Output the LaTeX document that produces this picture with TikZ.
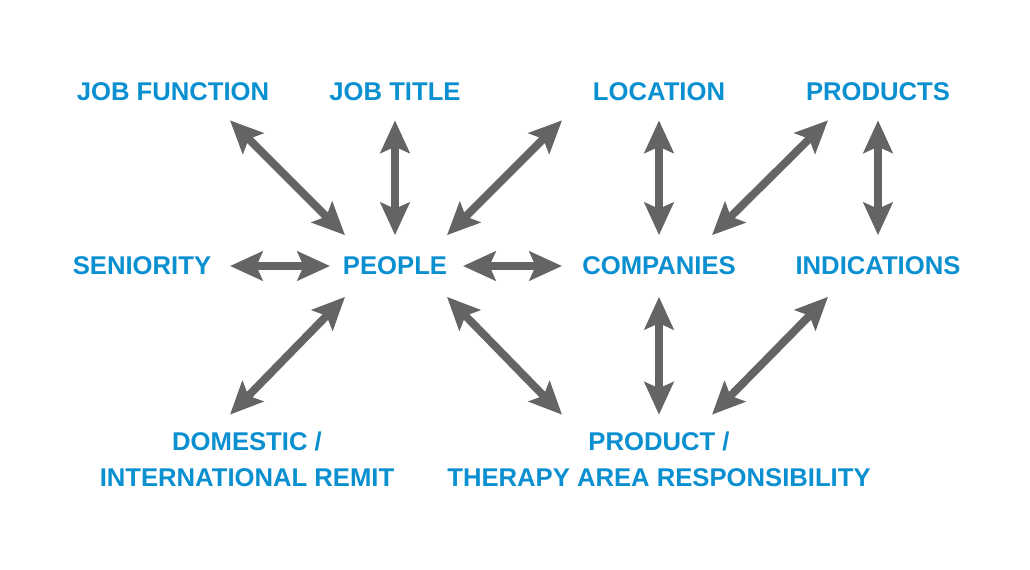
\documentclass[tikz,border=0pt]{standalone}
\usepackage{fontspec}
\setmainfont{Liberation Sans}
\usetikzlibrary{arrows.meta, positioning, calc}
\definecolor{tagblue}{HTML}{0A8FD0}
\definecolor{arrowgrey}{HTML}{636466}

\begin{document}
\begin{tikzpicture}[
    x=0.02cm, y=-0.02cm,
    tag/.style={text=tagblue, font=\fontsize{14.6}{20.4}\selectfont\bfseries,
                inner sep=0pt, align=center, minimum height=1.12cm},
    hub/.style={tag, minimum height=1.22cm},
    remit/.style={tag, minimum height=1.76cm},
    dbl/.style={{Stealth[length=18.5pt, width=16.5pt, inset=3.5pt]}-{Stealth[length=18.5pt, width=16.5pt, inset=3.5pt]},
                line width=4.5pt, arrowgrey}
]
    \useasboundingbox[fill=white] (0,0) rectangle (1030,569);

    % Nodes
    \node[tag] (jobfn) at (173,92) {JOB FUNCTION};
    \node[tag] (jobtitle) at (395,92) {JOB TITLE};
    \node[tag] (location) at (659,92) {LOCATION};
    \node[tag] (products) at (878,92) {PRODUCTS};
    \node[tag] (seniority) at (142,266) {SENIORITY};
    \node[hub] (people) at (395,266) {PEOPLE};
    \node[hub] (companies) at (659,266) {COMPANIES};
    \node[hub] (indications) at (878,266) {INDICATIONS};
    \node[remit] (domestic) at (247,459) {DOMESTIC /\\INTERNATIONAL REMIT};
    \node[remit] (product) at (659,459) {PRODUCT /\\THERAPY AREA RESPONSIBILITY};

    % Arrows round people
    \draw[dbl] ([shift={(57,0)}]jobfn.south) -- ([shift={(-50,0)}]people.north);
    \draw[dbl] (jobtitle.south) -- (people.north);
    \draw[dbl] ([shift={(52,0)}]people.north) -- ([shift={(-97,0)}]location.south);
    \draw[dbl] ([shift={(88,0)}]seniority.center) -- ([shift={(-65,0)}]people.center);
    \draw[dbl] ([shift={(68,0)}]people.center) -- ([shift={(-97,0)}]companies.center);
    \draw[dbl] ([shift={(-50,0)}]people.south) -- ([shift={(-17,0)}]domestic.north);
    \draw[dbl] ([shift={(52,0)}]people.south) -- ([shift={(-97,0)}]product.north);

    % Arrows round companies
    \draw[dbl] (location.south) -- (companies.north);
    \draw[dbl] ([shift={(53,0)}]companies.north) -- ([shift={(-50,0)}]products.south);
    \draw[dbl] (products.south) -- (indications.north);
    \draw[dbl] (companies.south) -- (product.north);
    \draw[dbl] ([shift={(53,0)}]product.north) -- ([shift={(-50,0)}]indications.south);
\end{tikzpicture}
\end{document}
